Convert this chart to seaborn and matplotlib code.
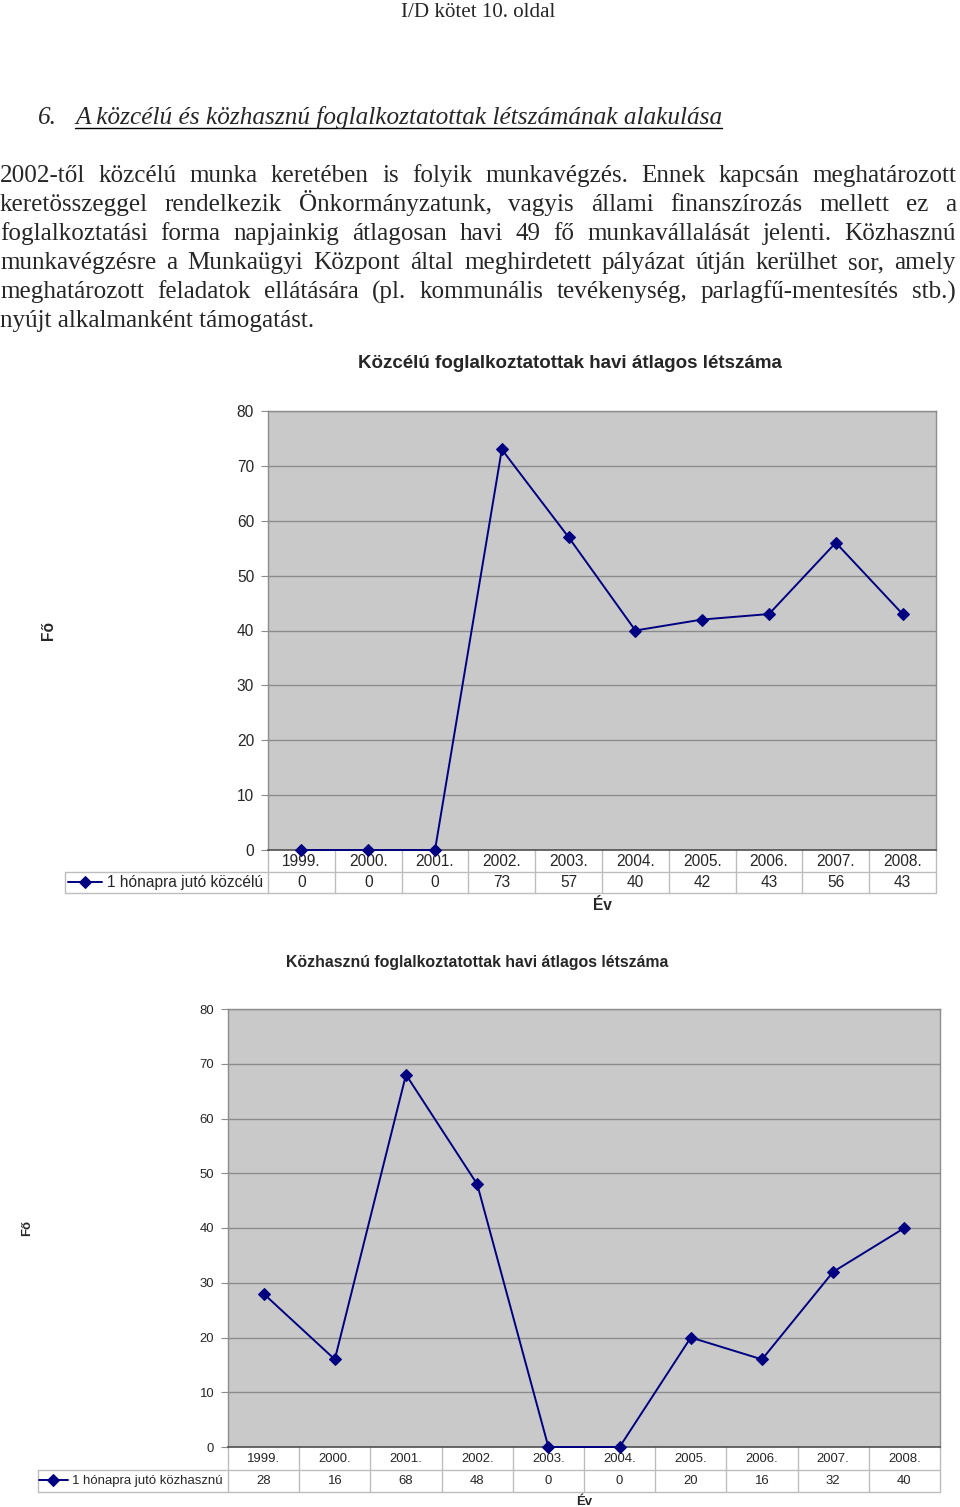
import numpy as np
import pandas as pd
import matplotlib
matplotlib.use("Agg")
import matplotlib.pyplot as plt
import matplotlib.transforms as mtransforms
from matplotlib.lines import Line2D
import seaborn as sns

# ---------------- data ----------------
years = ["1999.", "2000.", "2001.", "2002.", "2003.", "2004.", "2005.", "2006.", "2007.", "2008."]
kozcelu = [0, 0, 0, 73, 57, 40, 42, 43, 56, 43]
kozhasznu = [28, 16, 68, 48, 0, 0, 20, 16, 32, 40]
yticks = [0, 10, 20, 30, 40, 50, 60, 70, 80]

title1 = "Közcélú foglalkoztatottak havi átlagos létszáma"
title2 = "Közhasznú foglalkoztatottak havi átlagos létszáma"
series1 = "1 hónapra jutó közcélú"
series2 = "1 hónapra jutó közhasznú"
ylabel = "Fő"
xlabel = "Év"

header = "I/D kötet 10. oldal"
heading_num = "6."
heading = "A közcélú és közhasznú foglalkoztatottak létszámának alakulása"
body_lines = [
    "2002-től közcélú munka keretében is folyik munkavégzés. Ennek kapcsán meghatározott",
    "keretösszeggel rendelkezik Önkormányzatunk, vagyis állami finanszírozás mellett ez a",
    "foglalkoztatási forma napjainkig átlagosan havi 49 fő munkavállalását jelenti. Közhasznú",
    "munkavégzésre a Munkaügyi Központ által meghirdetett pályázat útján kerülhet sor, amely",
    "meghatározott feladatok ellátására (pl. kommunális tevékenység, parlagfű-mentesítés stb.)",
    "nyújt alkalmanként támogatást.",
]

# ---------------- setup ----------------
sns.set_style("white")
plt.rcParams["font.family"] = ["Liberation Sans", "DejaVu Sans"]

W, H = 960, 1507
fig = plt.figure(figsize=(W / 100, H / 100), dpi=100)
renderer = fig.canvas.get_renderer()
serif = ["Liberation Serif", "DejaVu Serif"]


def px(x):
    return x / W


def py(y):
    return 1 - y / H


def text_width(s, **kw):
    t = fig.text(0, 0, s, **kw)
    w = t.get_window_extent(renderer).width
    t.remove()
    return w


# ---------------- page text ----------------
hs = 10 * 154 / text_width(header, family=serif, size=10)
fig.text(px(478), py(17), header, ha="center", va="baseline", family=serif, size=hs)

hds = 10 * 649 / text_width(heading, family=serif, size=10, style="italic")
fig.text(px(38), py(124), heading_num, ha="left", va="baseline", family=serif, size=hds, style="italic")
fig.text(px(75), py(124), heading, ha="left", va="baseline", family=serif, size=hds, style="italic")
hw = text_width(heading, family=serif, size=hds, style="italic")
fig.add_artist(Line2D([px(75), px(75 + hw)], [py(128), py(128)], transform=fig.transFigure,
                      color="black", lw=1.0))

bs = 10 * 316 / text_width(body_lines[-1], family=serif, size=10)
for i, line in enumerate(body_lines):
    yb = py(182 + 29.1 * i)
    if i == len(body_lines) - 1:
        fig.text(px(0), yb, line, ha="left", va="baseline", family=serif, size=bs)
        continue
    words = line.split()
    widths = [text_width(w, family=serif, size=bs) for w in words]
    gap = (956 - sum(widths)) / (len(words) - 1)
    x = 0.0
    for w, wd in zip(words, widths):
        fig.text(px(x), yb, w, ha="left", va="baseline", family=serif, size=bs)
        x += wd + gap


# ---------------- charts ----------------
def chart(rect, values, label, title, fs, fs_title, title_xy, ylab_x, xlab_y, r1, r2, cell_left):
    ax = fig.add_axes(rect)
    pos = np.arange(len(years))
    df = pd.DataFrame({"pos": pos, "val": values})
    sns.lineplot(data=df, x="pos", y="val", marker="D", markersize=6, color="#000080",
                 markeredgecolor="#000080", linewidth=1.4, label=label, ax=ax, sort=False,
                 clip_on=False, zorder=5)
    ax.set_facecolor("#C9C9C9")
    ax.set_xlim(-0.5, len(years) - 0.5)
    ax.set_ylim(0, 80)
    ax.set_yticks(yticks)
    ax.yaxis.grid(True, color="#8C8C8C", lw=1.0)
    ax.xaxis.grid(False)
    ax.set_axisbelow(True)
    for s in ["left", "top", "right"]:
        ax.spines[s].set_color("#8C8C8C")
        ax.spines[s].set_linewidth(1.0)
    ax.spines["bottom"].set_color("#505050")
    ax.spines["bottom"].set_linewidth(1.2)
    ax.tick_params(axis="y", length=5, color="#8C8C8C", labelsize=fs, pad=5, left=True)
    ax.set_xticks(pos, years)
    ax.tick_params(axis="x", length=0, labelsize=fs, pad=(r1 * rect[3] * H / 2) * 0.72)
    for t in ax.get_xticklabels():
        t.set_va("center")
    ax.set_xlabel("")
    ax.set_ylabel("")

    bt = mtransforms.blended_transform_factory(ax.transData, ax.transAxes)
    gc = "#BDBDBD"
    for b in np.arange(len(years) + 1) - 0.5:
        ax.add_line(Line2D([b, b], [0, -r2], transform=bt, color=gc, lw=1, clip_on=False))
    for yy in (-r1, -r2):
        ax.add_line(Line2D([cell_left, 1], [yy, yy], transform=ax.transAxes, color=gc, lw=1,
                           clip_on=False))
    ax.add_line(Line2D([cell_left, cell_left], [-r1, -r2], transform=ax.transAxes, color=gc,
                       lw=1, clip_on=False))

    yc = -(r1 + r2) / 2
    for p, v in zip(pos, values):
        ax.text(p, yc, str(v), transform=bt, ha="center", va="center", fontsize=fs, clip_on=False)

    ax.legend(loc="center right", bbox_to_anchor=(-0.008, yc), frameon=False, fontsize=fs,
              handlelength=2.2, handletextpad=0.3, borderpad=0, borderaxespad=0)

    ax.text(title_xy[0], title_xy[1], title, transform=ax.transAxes, ha="center", va="center",
            fontsize=fs_title, fontweight="bold")
    ax.text(ylab_x, 0.5, ylabel, transform=ax.transAxes, ha="center", va="center", rotation=90,
            fontsize=fs, fontweight="bold")
    ax.text(0.5, xlab_y, xlabel, transform=ax.transAxes, ha="center", va="center",
            fontsize=fs, fontweight="bold")
    return ax


chart([268 / W, (H - 850) / H, 668 / W, 439 / H], kozcelu, series1, title1,
      fs=11.2, fs_title=13.5, title_xy=((570 - 268) / 668, (850 - 364) / 439),
      ylab_x=(48 - 268) / 668, xlab_y=(850 - 905) / 439,
      r1=22 / 439, r2=43 / 439, cell_left=(65 - 268) / 668)

chart([228 / W, (H - 1447) / H, 712 / W, 438 / H], kozhasznu, series2, title2,
      fs=9.45, fs_title=11.4, title_xy=((477 - 228) / 712, (1447 - 963) / 438),
      ylab_x=(27 - 228) / 712, xlab_y=(1447 - 1502) / 438,
      r1=23 / 438, r2=45 / 438, cell_left=(38 - 228) / 712)

fig.savefig("out.png", dpi=100)
